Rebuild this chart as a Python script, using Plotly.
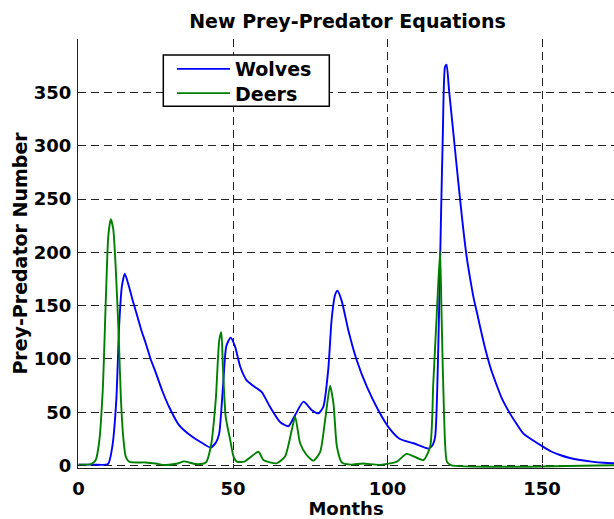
import plotly.graph_objects as go

# Wolves population over time (months, count)
wolves_months = [0, 5, 9.5, 10.9, 12.2, 13.1, 14.0, 14.95, 16.3, 17.6, 19.0, 20.3, 21.7,
                 23.3, 25.0, 27.1, 29.3, 32.5, 36.8, 40.1, 42.8, 44.5, 45.5, 46.8, 47.8,
                 49.2, 50.6, 52.3, 54.4, 57.7, 59.3, 62.0, 65.2, 67.9, 70.1, 72.8, 75.5,
                 77.6, 79.2, 80.8, 81.9, 83.0, 83.8, 85.2, 87.3, 90.0, 93.3, 97.0, 100.6,
                 104.0, 108.4, 113.2, 114.5, 115.4, 116.4, 117.3, 117.9, 118.6, 119.1,
                 119.9, 121.3, 122.4, 123.5, 124.5, 125.6, 126.7, 127.8, 128.9, 129.9,
                 131.5, 133.2, 135.0, 137.0, 139.6, 141.8, 144.0, 146.9, 149.9, 152.8,
                 155.8, 159.0, 162.3, 166.0, 170.0, 175.0]
wolves = [1, 1, 1.5, 17.8, 61.6, 130, 168, 180, 168, 154, 140, 127, 115,
          100, 87, 70, 55, 38, 27, 21, 17, 22, 30, 77, 112,
          120, 112, 93, 80, 72.5, 69, 55, 41, 37, 47.5, 60, 52,
          49, 55, 90, 137, 160, 164, 154, 127, 99, 74, 52, 35,
          25, 21, 16, 19, 27, 108, 233, 312, 374, 376,
          352, 312, 280, 249, 222, 196, 176, 158, 144, 131,
          111, 93, 78, 63, 49, 39, 30, 24, 18.5, 13.5,
          10, 7.2, 5.3, 3.8, 2.7, 2]

# Deer population over time (months, count)
deer_months = [0, 4, 5.5, 6.6, 7.8, 8.8, 9.6, 10.4, 11.2, 12.0, 13.0, 13.7, 14.5,
               15.3, 16.5, 21.7, 25.0, 28.0, 32.0, 34.1, 37.9, 41.2, 42.8, 44.4,
               45.5, 46.2, 46.7, 47.6, 49.0, 50.2, 51.2, 53.7, 58.2, 59.8, 64.1,
               66.8, 69.0, 70.1, 71.7, 73.8, 76.0, 78.2, 79.8, 81.4, 82.5, 83.6,
               85.2, 88.0, 92.0, 97.6, 103.0, 106.2, 111.6, 113.8, 114.8, 115.9,
               117.0, 117.5, 118.3, 119.2, 120.5, 175.0]
deers = [1, 1.5, 5, 21, 70, 155, 215, 231, 222, 186, 120, 62, 25,
         8, 3.5, 3, 2, 0.6, 2, 4, 1.5, 3, 18, 62,
         117, 125, 93, 46, 25, 8, 3.8, 3.8, 13, 5.3, 2.2,
         8.5, 33.5, 46, 21, 10, 4.7, 13, 43, 75, 58, 18,
         3, 1, 2, 0.7, 3.8, 11, 5.3, 18, 77, 140,
         201, 140, 46, 3.8, 0.5, 0.5]

x_ticks = [0, 50, 100, 150]
y_ticks = [0, 50, 100, 150, 200, 250, 300, 350]

FONT = "DejaVu Sans"
L, T, W, H = 78, 39, 536, 429  # plot area in px


def px_x(p):
    return (p - L) / W


def px_y(p):
    return (T + H - p) / H


fig = go.Figure()
fig.add_trace(go.Scatter(x=wolves_months, y=wolves, mode="lines", name="Wolves",
                         legend="legend",
                         line=dict(color="#0000ff", width=1.9, shape="spline", smoothing=0.6)))
fig.add_trace(go.Scatter(x=deer_months, y=deers, mode="lines", name="Deers",
                         legend="legend2",
                         line=dict(color="#008000", width=1.9, shape="spline", smoothing=0.6)))

axis_common = dict(
    showgrid=True,
    gridcolor="#222222",
    gridwidth=1,
    griddash="8px,5px",
    zeroline=False,
    showline=True,
    linecolor="#222222",
    linewidth=1.2,
    ticks="inside",
    ticklen=4,
    tickcolor="#222222",
    tickfont=dict(family=FONT, size=18, color="black", weight="bold"),
    automargin=False,
)

# frame around the legend entries
fig.add_shape(type="rect", xref="paper", yref="paper",
              x0=px_x(163.3), x1=px_x(329.3), y0=px_y(106.3), y1=px_y(55),
              line=dict(color="black", width=1.5), fillcolor="white", layer="above")

legend_style = dict(xanchor="left", yanchor="middle", bgcolor="rgba(0,0,0,0)",
                    borderwidth=0, itemwidth=53,
                    font=dict(family=FONT, size=19, color="black", weight="bold"))

fig.update_layout(
    width=614,
    height=519,
    margin=dict(l=L, r=0, t=T, b=519 - T - H),
    paper_bgcolor="white",
    plot_bgcolor="white",
    title=dict(text="New Prey-Predator Equations", x=px_x(347.5), xanchor="center",
               xref="paper", y=1 - 21 / 519, yanchor="middle",
               font=dict(family=FONT, size=19, color="black", weight="bold")),
    xaxis=dict(axis_common, range=[-0.2, 173.3], tickvals=x_ticks,
               ticklabelstandoff=4,
               title=dict(text="Months", standoff=6,
                          font=dict(family=FONT, size=18, color="black", weight="bold"))),
    yaxis=dict(axis_common, range=[-2.2, 400], tickvals=y_ticks,
               ticklabelstandoff=2,
               title=dict(text="Prey-Predator Number", standoff=1,
                          font=dict(family=FONT, size=19, color="black", weight="bold"))),
    legend=dict(legend_style, x=px_x(172), y=px_y(69)),
    legend2=dict(legend_style, x=px_x(172), y=px_y(93.3)),
    showlegend=True,
)

fig.write_html("out.html")
